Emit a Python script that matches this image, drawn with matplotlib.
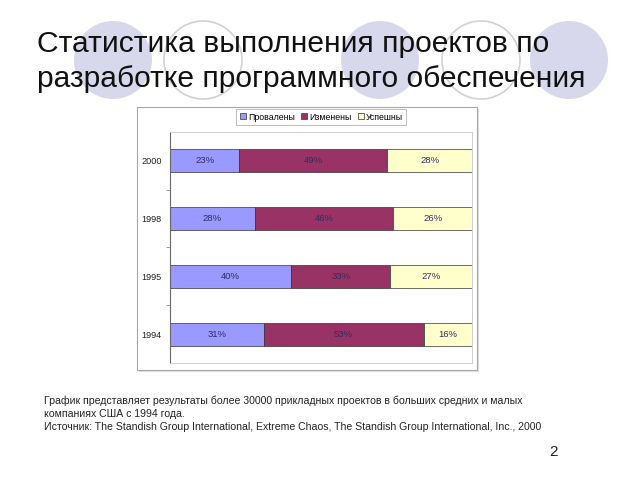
import matplotlib
matplotlib.use('Agg')
import matplotlib.pyplot as plt
from matplotlib.patches import Circle, Rectangle
from matplotlib.lines import Line2D
import numpy as np

plt.rcParams['font.family'] = ['Liberation Sans', 'DejaVu Sans']

# ── Data ─────────────────────────────────────────────────────────────
years = ['1994', '1995', '1998', '2000']
failed = [31, 40, 28, 23]
changed = [53, 33, 46, 49]
success = [16, 27, 26, 28]
series_names = ['Провалены', 'Изменены', 'Успешны']

# ── Colors ───────────────────────────────────────────────────────────
FAILED_C = '#9999FF'
CHANGED_C = '#993366'
SUCCESS_C = '#FFFFCC'
LABEL_C = '#2E2E5C'
CIRCLE_FILL = '#D8D8EC'
CIRCLE_EDGE = '#D2D2D2'

fig = plt.figure(figsize=(6.4, 4.8), dpi=100)
fig.patch.set_facecolor('white')

# background layer in pixel coordinates (slide decoration + texts)
bg = fig.add_axes([0, 0, 1, 1])
bg.set_xlim(0, 640)
bg.set_ylim(480, 0)
bg.axis('off')

for cx, filled in [(113, True), (203, False), (380, True), (481, False), (569, True)]:
    if filled:
        bg.add_patch(Circle((cx, 60), 39, facecolor=CIRCLE_FILL, edgecolor='none', zorder=1))
    else:
        bg.add_patch(Circle((cx, 60), 39, facecolor='none', edgecolor=CIRCLE_EDGE, lw=1.2, zorder=1))

bg.text(37, 52, 'Статистика выполнения проектов по', fontsize=21.6,
        ha='left', va='baseline', color='#111111', zorder=3)
bg.text(37, 87, 'разработке программного обеспечения', fontsize=21.6,
        ha='left', va='baseline', color='#111111', zorder=3)

# chart frame with a soft shadow
bg.add_patch(Rectangle((139, 109), 340, 263, facecolor='#DDDDDD', edgecolor='none', zorder=2))
bg.add_patch(Rectangle((137, 107), 340, 263, facecolor='white', edgecolor='#A8A8A8', lw=0.8, zorder=2))

notes = ['График представляет результаты более 30000 прикладных проектов в больших средних и малых',
         'компаниях США с 1994 года.',
         'Источник: The Standish Group International, Extreme Chaos, The Standish Group International, Inc., 2000']
for i, line in enumerate(notes):
    bg.text(44, 401 + i * 13, line, fontsize=7.6, ha='left', va='center', color='#222222')
bg.text(553, 452, '2', fontsize=11, ha='center', va='center', color='#222222')

# ── Bar chart ────────────────────────────────────────────────────────
ax = fig.add_axes([170 / 640, 1 - 363 / 480, 302 / 640, 231 / 480])
ax.set_facecolor('white')
y = np.arange(len(years))
h = 0.4

left = np.zeros(len(years))
for vals, col, name in zip([failed, changed, success],
                           [FAILED_C, CHANGED_C, SUCCESS_C], series_names):
    ax.barh(y, vals, left=left, height=h, color=col, edgecolor='#333333',
            linewidth=0.5, label=name, zorder=2)
    for yi, l, v in zip(y, left, vals):
        ax.text(l + v / 2, yi, f'{v}%', ha='center', va='center',
                fontsize=6.8, color=LABEL_C, zorder=3)
    left = left + np.array(vals)

ax.set_xlim(0, 100)
ax.set_ylim(-0.5, len(years) - 0.5)
ax.set_xticks([])
ax.set_yticks(y)
ax.set_yticklabels(years, fontsize=6.6, color='#222222')
ax.tick_params(axis='y', which='major', length=0, pad=6)
ax.set_yticks(np.arange(0.5, len(years) - 0.5), minor=True)
ax.tick_params(axis='y', which='minor', length=3, width=0.6, color='#888888')
for s in ['top', 'right', 'bottom']:
    ax.spines[s].set_color('#C8C8C8')
    ax.spines[s].set_linewidth(0.6)
ax.spines['left'].set_color('#666666')
ax.spines['left'].set_linewidth(0.8)

handles = [Line2D([], [], marker='s', linestyle='none', markersize=4.5,
                  markerfacecolor=c, markeredgecolor='#333333', markeredgewidth=0.5)
           for c in [FAILED_C, CHANGED_C, SUCCESS_C]]
leg = fig.legend(handles, series_names, loc='center', ncol=3,
                 bbox_to_anchor=(321 / 640, 1 - 117 / 480), fontsize=6.3,
                 frameon=True, fancybox=False, handletextpad=0.1,
                 columnspacing=0.5, borderpad=0.35, handlelength=1.0)
leg.get_frame().set_edgecolor('#A0A0A0')
leg.get_frame().set_linewidth(0.6)

fig.savefig('out.png', dpi=100, facecolor='white')
plt.close()
